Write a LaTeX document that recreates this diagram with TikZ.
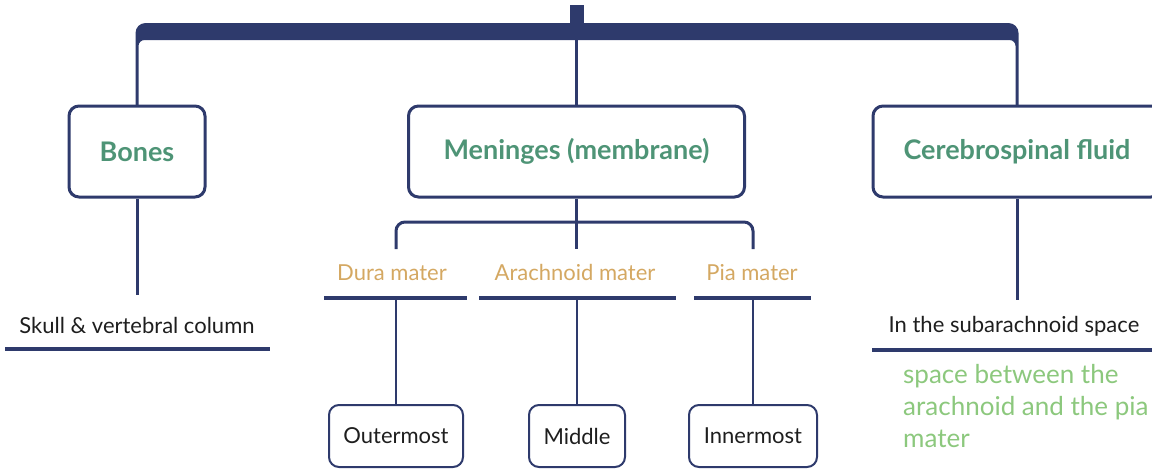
\documentclass[tikz,border=0pt]{standalone}
\usepackage{fontspec}
\setmainfont{Lato}
\definecolor{navy}{RGB}{46,58,108}
\definecolor{headgreen}{RGB}{78,148,118}
\definecolor{gold}{RGB}{212,168,98}
\definecolor{lightgreen}{RGB}{140,200,125}
\definecolor{darktext}{RGB}{30,30,30}
\begin{document}
\begin{tikzpicture}[x=1pt,y=-1pt,
  bigbox/.style={draw=navy, line width=3, rounded corners=10, minimum height=91, inner sep=0,
    text=headgreen, font=\fontsize{27}{30}\selectfont\bfseries},
  smallbox/.style={draw=navy, line width=2, rounded corners=10, minimum height=62, inner sep=0,
    text=darktext, font=\fontsize{22}{26}\selectfont},
  plain/.style={text=darktext, font=\fontsize{22}{26}\selectfont, inner sep=0},
  layer/.style={text=gold, font=\fontsize{22}{26}\selectfont, inner sep=0},
  note/.style={text=lightgreen, font=\fontsize{26}{32}\selectfont, inner sep=0, align=left},
  thin/.style={draw=navy, line width=2},
  mid/.style={draw=navy, line width=3},
  uline/.style={draw=navy, line width=4.5}]
\useasboundingbox (0,0) rectangle (1152,469);

% main boxes
\node[bigbox, minimum width=136] (bones) at (137,151.5) {Bones};
\node[bigbox, minimum width=336] (men) at (576.5,151.5) {Meninges (membrane)};
\node[bigbox, minimum width=288] (csf) at (1017,151.5) {Cerebrospinal fluid};

% top bracket
\fill[navy] (570,5) rectangle (584,24);
\fill[navy] (135.5,106) [rounded corners=10] -- (135.5,23) -- (1018.5,23) [sharp corners] -- (1018.5,106)
  -- (1015.5,106) [rounded corners=6] -- (1015.5,40) -- (138.5,40) [sharp corners] -- (138.5,106) -- cycle;
\coordinate (top) at (576.5,40);
\draw[mid] (top) -- (men.north);

% bones branch
\node[plain, anchor=base] (skull) at (137,333) {Skull \& vertebral column};
\coordinate (skullL) at (5,349);
\coordinate (skullR) at (270,349);
\draw[mid] (bones.south) -- (137,295);
\draw[uline] (skullL) -- (skullR);

% csf branch
\node[plain, anchor=base] (sub) at (1014,332) {In the subarachnoid space};
\coordinate (subL) at (872,350);
\coordinate (subR) at (1160,350);
\draw[mid] (csf.south) -- (1017,300);
\draw[uline] (subL) -- (subR);
\node[note, anchor=north west] (note) at (903,364) {space between the\\arachnoid and the pia\\mater};

% meninges sub-bracket
\coordinate (brL) at (396,249);
\coordinate (brM) at (576.5,249);
\coordinate (brR) at (753,249);
\draw[mid] (men.south) -- (brM);
\draw[mid, rounded corners=9] (brL) -- (396,222) -- (753,222) -- (brR);

\node[layer, anchor=base] (dura) at (392,280) {Dura mater};
\node[layer, anchor=base] (arach) at (575,280) {Arachnoid mater};
\node[layer, anchor=base] (pia) at (752,280) {Pia mater};
\coordinate (duraU) at (396,298);
\coordinate (arachU) at (577,298);
\coordinate (piaU) at (753,298);
\draw[uline] (324,298) -- (467,298);
\draw[uline] (479,298) -- (676,298);
\draw[uline] (694,298) -- (811,298);

\node[smallbox, minimum width=134] (outer) at (396,436) {Outermost};
\node[smallbox, minimum width=96] (middle) at (577,436) {Middle};
\node[smallbox, minimum width=128] (inner) at (753,436) {Innermost};
\draw[thin] (duraU) -- (outer.north);
\draw[thin] (arachU) -- (middle.north);
\draw[thin] (piaU) -- (inner.north);
\end{tikzpicture}
\end{document}
